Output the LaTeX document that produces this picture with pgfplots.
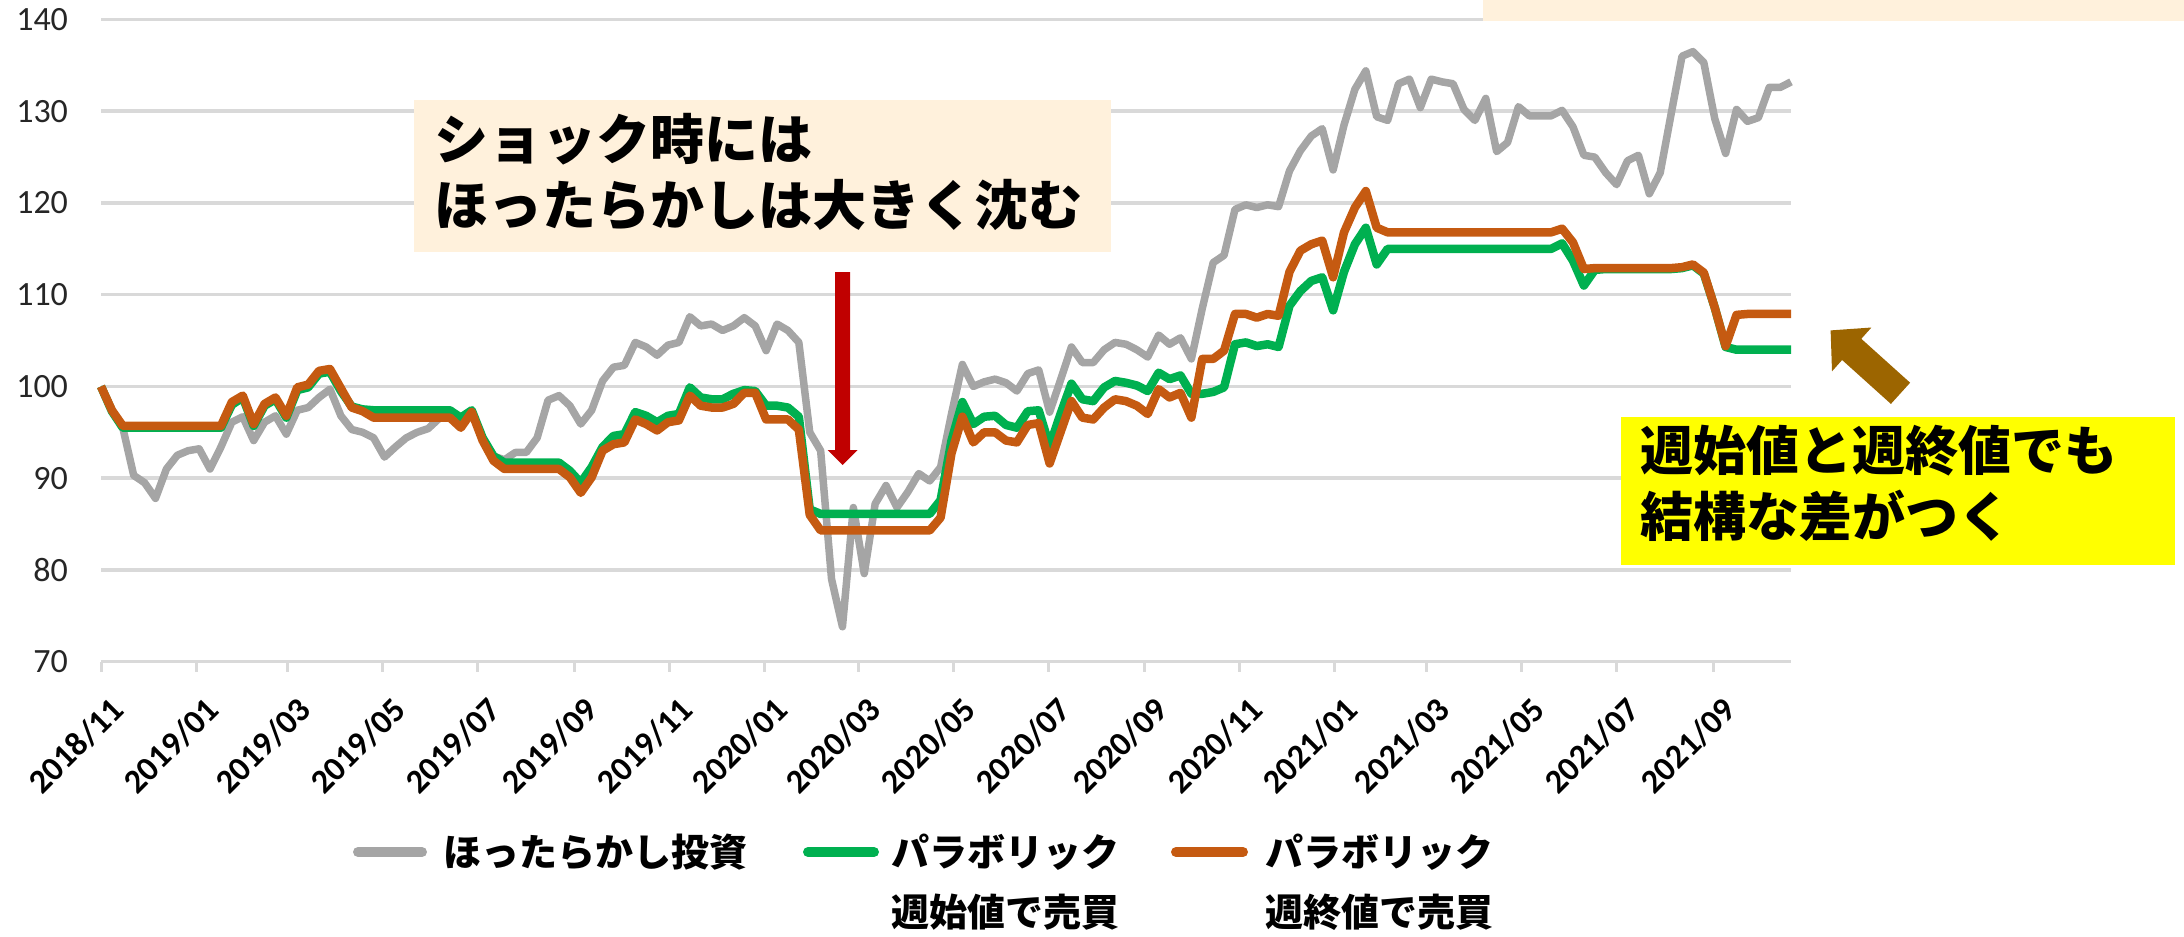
\documentclass[border=0pt]{standalone}
\usepackage{pgfplots}
\pgfplotsset{compat=1.18}
\usepackage{pgfplotstable}
\usepackage{fontspec}
\setmainfont{Carlito}
\newfontfamily\jp{Noto Sans CJK JP}
\definecolor{graycol}{RGB}{165,165,165}
\definecolor{greencol}{RGB}{0,176,80}
\definecolor{orangecol}{RGB}{197,90,17}
\definecolor{gridgray}{RGB}{217,217,217}
\definecolor{cream}{RGB}{255,241,220}
\definecolor{redarrow}{RGB}{192,0,0}
\definecolor{brownarrow}{RGB}{156,101,0}
\definecolor{yellowbox}{RGB}{255,255,0}

\pgfplotstableread{
w A G O
0 100.0 100.0 100.0
1 97.4 97.3 97.4
2 95.5 95.5 95.7
3 90.3 95.5 95.7
4 89.5 95.5 95.7
5 87.8 95.5 95.7
6 91.0 95.5 95.7
7 92.5 95.5 95.7
8 93.0 95.5 95.7
9 93.2 95.5 95.7
10 91.0 95.5 95.7
11 93.4 95.5 95.7
12 96.1 98.0 98.3
13 96.7 98.8 99.0
14 94.1 95.7 95.9
15 96.1 97.9 98.1
16 96.8 98.6 98.8
17 94.8 96.6 96.8
18 97.4 99.6 99.9
19 97.7 99.9 100.2
20 98.8 101.4 101.7
21 99.7 101.6 101.9
22 96.8 99.5 99.8
23 95.3 97.8 97.7
24 95.0 97.5 97.3
25 94.4 97.4 96.6
26 92.3 97.4 96.6
27 93.4 97.4 96.6
28 94.4 97.4 96.6
29 95.0 97.4 96.6
30 95.4 97.4 96.6
31 96.5 97.4 96.6
32 97.4 97.4 96.6
33 96.6 96.6 95.5
34 97.4 97.4 97.2
35 94.4 94.4 94.1
36 92.4 92.4 91.9
37 92.0 91.7 91.0
38 92.8 91.7 91.0
39 92.8 91.7 91.0
40 94.4 91.7 91.0
41 98.5 91.7 91.0
42 99.0 91.7 91.0
43 97.9 90.8 90.1
44 95.9 89.5 88.4
45 97.4 91.2 90.1
46 100.6 93.4 93.0
47 102.1 94.6 93.7
48 102.3 94.8 93.9
49 104.8 97.2 96.4
50 104.3 96.8 95.9
51 103.4 96.1 95.2
52 104.5 96.8 96.1
53 104.8 97.0 96.3
54 107.6 99.9 99.0
55 106.6 98.8 97.9
56 106.8 98.6 97.7
57 106.1 98.6 97.7
58 106.6 99.2 98.1
59 107.5 99.6 99.3
60 106.6 99.5 99.3
61 103.9 97.9 96.4
62 106.8 97.9 96.4
63 106.1 97.7 96.4
64 104.8 96.7 95.3
65 95.0 86.6 86.0
66 93.0 86.1 84.3
67 79.0 86.1 84.3
68 73.8 86.1 84.3
69 86.8 86.1 84.3
70 79.6 86.1 84.3
71 87.2 86.1 84.3
72 89.2 86.1 84.3
73 86.8 86.1 84.3
74 88.5 86.1 84.3
75 90.5 86.1 84.3
76 89.7 86.1 84.3
77 91.2 87.6 85.7
78 97.0 94.1 92.7
79 102.4 98.3 96.7
80 100.0 95.9 93.9
81 100.5 96.7 95.0
82 100.8 96.8 95.0
83 100.4 95.8 94.1
84 99.5 95.5 93.9
85 101.4 97.3 95.8
86 101.8 97.4 96.0
87 97.2 93.5 91.6
88 100.7 97.0 95.0
89 104.3 100.3 98.4
90 102.6 98.6 96.6
91 102.6 98.4 96.4
92 104.0 99.9 97.7
93 104.8 100.6 98.6
94 104.6 100.4 98.4
95 104.0 100.1 97.9
96 103.2 99.5 97.0
97 105.6 101.5 99.7
98 104.6 100.8 98.8
99 105.3 101.2 99.3
100 103.0 99.2 96.6
101 108.5 99.2 103.0
102 113.5 99.4 103.0
103 114.3 99.9 103.9
104 119.3 104.6 107.9
105 119.8 104.8 107.9
106 119.5 104.4 107.5
107 119.8 104.6 107.9
108 119.6 104.3 107.7
109 123.5 108.8 112.5
110 125.7 110.4 114.8
111 127.3 111.5 115.5
112 128.1 111.9 115.9
113 123.6 108.3 111.9
114 128.5 112.5 116.8
115 132.4 115.5 119.5
116 134.4 117.3 121.3
117 129.4 113.3 117.3
118 129.0 115.0 116.8
119 133.0 115.0 116.8
120 133.5 115.0 116.8
121 130.4 115.0 116.8
122 133.5 115.0 116.8
123 133.2 115.0 116.8
124 133.0 115.0 116.8
125 130.2 115.0 116.8
126 129.0 115.0 116.8
127 131.4 115.0 116.8
128 125.6 115.0 116.8
129 126.6 115.0 116.8
130 130.5 115.0 116.8
131 129.5 115.0 116.8
132 129.5 115.0 116.8
133 129.5 115.0 116.8
134 130.1 115.6 117.2
135 128.3 113.7 115.7
136 125.2 111.0 112.8
137 125.0 112.7 112.9
138 123.3 112.8 112.9
139 122.0 112.8 112.9
140 124.6 112.8 112.9
141 125.2 112.8 112.9
142 121.0 112.8 112.9
143 123.3 112.8 112.9
144 129.7 112.8 112.9
145 136.0 112.9 113.0
146 136.5 113.2 113.3
147 135.3 112.3 112.4
148 129.2 108.6 108.6
149 125.4 104.3 104.4
150 130.2 104.0 107.8
151 128.9 104.0 107.9
152 129.3 104.0 107.9
153 132.6 104.0 107.9
154 132.6 104.0 107.9
155 133.2 104.0 107.9
}\datatable

\begin{document}
\begin{tikzpicture}
\begin{scope}[x=0.5bp,y=0.5bp]
\useasboundingbox (0,0) rectangle (2184,-936);
\end{scope}
\begin{axis}[
  at={(50.5bp,-330.8bp)}, anchor=south west,
  scale only axis, width=845bp, height=321.05bp,
  xmin=0, xmax=155, ymin=70, ymax=140,
  ytick={70,80,90,100,110,120,130,140},
  xtick={0,8.714,17.143,25.857,34.571,43.429,52.143,60.857,69.429,78.143,86.857,95.714,104.429,113.143,121.571,130.286,139,147.857},
  xticklabels={2018/11,2019/01,2019/03,2019/05,2019/07,2019/09,2019/11,2020/01,2020/03,2020/05,2020/07,2020/09,2020/11,2021/01,2021/03,2021/05,2021/07,2021/09},
  ymajorgrids, grid style={draw=gridgray, line width=1.75bp},
  axis line style={draw=none},
  xtick pos=left, ytick pos=left,
  ytick style={draw=none},
  xtick style={draw=gridgray, line width=1.5bp},
  tick align=outside, major tick length=5bp,
  /pgf/number format/assume math mode=true,
  yticklabel style={font=\fontsize{17bp}{20bp}\selectfont, text=black!85, xshift=-8bp},
  xticklabel style={font=\bfseries\fontsize{17bp}{20bp}\selectfont, yshift=-10bp, xshift=4bp, rotate=45, anchor=north east, inner sep=1bp},
  clip=false,
]
\addplot[graycol, line width=3.75bp, line join=round, mark=none] table[x=w,y=A]{\datatable};
\addplot[greencol, line width=4.25bp, line join=round, mark=none] table[x=w,y=G]{\datatable};
\addplot[orangecol, line width=4.25bp, line join=round, mark=none] table[x=w,y=O]{\datatable};
\end{axis}

\begin{scope}[x=0.5bp,y=0.5bp]
% annotation box 1
\fill[cream] (413.6,-100.3) rectangle (1111.4,-252);
\node[anchor=west, inner sep=0] at (434.5,-139) {\jp\bfseries\fontsize{27bp}{30bp}\selectfont ショック時には};
\node[anchor=west, inner sep=0] at (434.5,-205) {\jp\bfseries\fontsize{27bp}{30bp}\selectfont ほったらかしは大きく沈む};
% top-right box
\fill[cream] (1483,0) rectangle (2184,-21);
% red arrow
\fill[redarrow] (835.1,-272) -- (850.1,-272) -- (850.1,-450) -- (857.6,-450) -- (842.6,-465) -- (827.6,-450) -- (835.1,-450) -- cycle;
% yellow box
\fill[yellowbox] (1620.7,-416.5) rectangle (2175,-564.7);
\node[anchor=west, inner sep=0] at (1640,-451) {\jp\bfseries\fontsize{26.5bp}{30bp}\selectfont 週始値と週終値でも};
\node[anchor=west, inner sep=0] at (1640,-515.6) {\jp\bfseries\fontsize{26.5bp}{30bp}\selectfont 結構な差がつく};
% brown arrow
\fill[brownarrow] (1830.6,-330.4) -- (1871.4,-327.5) -- (1861.3,-338.8) -- (1910.1,-382.7) -- (1890.9,-403.9) -- (1842.1,-360) -- (1832,-371.3) -- cycle;
% legend
\draw[graycol, line width=5bp, line cap=round] (358,-852) -- (422,-852);
\node[anchor=west, inner sep=0] at (443,-852) {\jp\bfseries\fontsize{19bp}{22bp}\selectfont ほったらかし投資};
\draw[greencol, line width=5bp, line cap=round] (808,-852) -- (874,-852);
\node[anchor=west, inner sep=0] at (891,-852) {\jp\bfseries\fontsize{19bp}{22bp}\selectfont パラボリック};
\node[anchor=west, inner sep=0] at (891,-912) {\jp\bfseries\fontsize{19bp}{22bp}\selectfont 週始値で売買};
\draw[orangecol, line width=5bp, line cap=round] (1176,-852) -- (1243,-852);
\node[anchor=west, inner sep=0] at (1265,-852) {\jp\bfseries\fontsize{19bp}{22bp}\selectfont パラボリック};
\node[anchor=west, inner sep=0] at (1265,-912) {\jp\bfseries\fontsize{19bp}{22bp}\selectfont 週終値で売買};
\end{scope}
\end{tikzpicture}
\end{document}
